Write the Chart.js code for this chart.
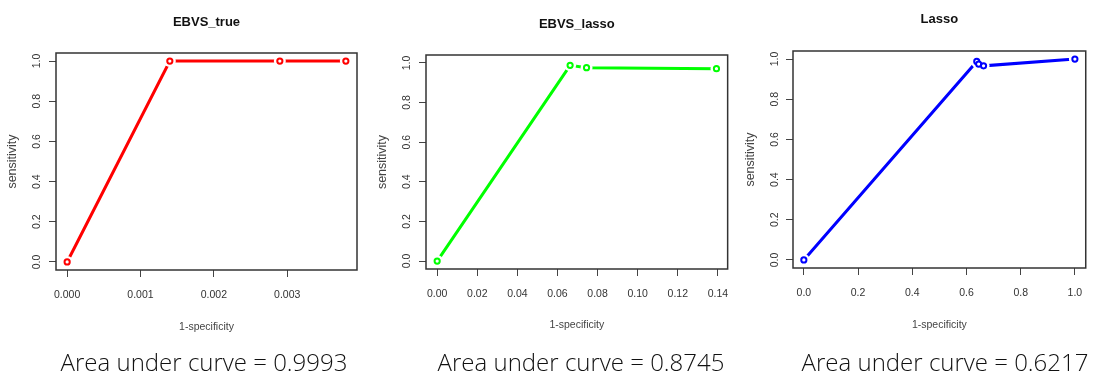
<!DOCTYPE html>
<html>
<head>
  <meta charset="utf-8">
  <title>ROC curves</title>
  <script src="https://cdn.jsdelivr.net/npm/chart.js"></script>
  <style>
    body { margin: 0; background: #fff; }
    #wrap { position: relative; width: 1094px; height: 374px; overflow: hidden; }
    .panel { position: absolute; top: 0; height: 374px; }
    .auc {
      position: absolute; top: 350px; transform: translateX(-50%);
      font-family: "Open Sans", sans-serif; font-weight: 300; font-size: 24px; line-height: 24px;
      color: #111; white-space: nowrap;
    }
  </style>
</head>
<body>
  <div id="wrap">
    <div class="panel" style="left:0;width:370px"><canvas id="trueChart"></canvas></div>
    <div class="panel" style="left:370px;width:370px"><canvas id="ebLassoChart"></canvas></div>
    <div class="panel" style="left:735px;width:359px"><canvas id="lassoChart"></canvas></div>
    <div class="auc" style="left:204px">Area under curve = 0.9993</div>
    <div class="auc" style="left:581px">Area under curve = 0.8745</div>
    <div class="auc" style="left:945px">Area under curve = 0.6217</div>
  </div>

  <script>
    // values
    const trueX = [0, 0.0014, 0.0029, 0.0038];
    const trueY = [0, 1, 1, 1];
    const ebLassoX = [0, 0.0663, 0.0745, 0.1393];
    const ebLassoY = [0, 0.988, 0.976, 0.971];
    const lassoX = [0, 0.638, 0.645, 0.663, 1.0];
    const lassoY = [0, 0.988, 0.975, 0.966, 1.0];

    const trueTicks = [0, 0.001, 0.002, 0.003];
    const ebLassoTicks = [0, 0.02, 0.04, 0.06, 0.08, 0.10, 0.12, 0.14];
    const lassoTicks = [0, 0.2, 0.4, 0.6, 0.8, 1.0];
    const sensTicks = [0, 0.2, 0.4, 0.6, 0.8, 1.0];

    Chart.defaults.font.family = '"Liberation Sans", Arial, sans-serif';
    Chart.defaults.animation = false;

    // R style box round the plot region
    const boxPlugin = {
      id: 'box',
      afterDatasetsDraw(chart) {
        const a = chart.chartArea, ctx = chart.ctx;
        ctx.save();
        ctx.strokeStyle = '#333';
        ctx.lineWidth = 1.5;
        ctx.strokeRect(a.left, a.top, a.right - a.left, a.bottom - a.top);
        ctx.restore();
      }
    };

    // 4% extension like R's default axis range
    function rRange(lo, hi) {
      const d = (hi - lo) * 0.04;
      return [lo - d, hi + d];
    }

    function makeChart(id, o) {
      const pts = o.xs.map((x, i) => ({ x: x, y: o.ys[i] }));
      const xr = rRange(Math.min(...o.xs), Math.max(...o.xs));
      const yr = rRange(0, 1);
      return new Chart(document.getElementById(id), {
        type: 'scatter',
        data: {
          datasets: [{
            // line, drawn first (bottom)
            order: 3,
            data: pts, showLine: true, borderColor: o.color, borderWidth: 3,
            borderCapStyle: 'butt', pointRadius: 0
          }, {
            // white gap round each point, like type = "b"
            order: 2,
            data: pts, showLine: false, pointRadius: 6, pointBorderWidth: 0,
            pointBackgroundColor: '#fff', pointBorderColor: '#fff'
          }, {
            order: 1,
            data: pts, showLine: false, pointRadius: 2.6, pointBorderWidth: 2,
            pointBorderColor: o.color, pointBackgroundColor: '#fff'
          }]
        },
        options: {
          responsive: true,
          maintainAspectRatio: false,
          events: [],
          layout: { padding: { left: 0, right: o.right, top: 0, bottom: 40 } },
          plugins: {
            legend: { display: false },
            tooltip: { enabled: false },
            title: {
              display: true, text: o.title, fullSize: false, color: '#111',
              font: { size: 13, weight: 'bold' },
              padding: { top: o.titleTop, bottom: o.top - o.titleTop - 15.6 }
            }
          },
          scales: {
            x: {
              type: 'linear', min: xr[0], max: xr[1],
              afterBuildTicks: s => { s.ticks = o.xTicks.map(v => ({ value: v })); },
              afterFit: s => { s.height = 334 - o.bottom; },
              grid: { drawOnChartArea: false, drawTicks: true, tickLength: 7, color: '#444' },
              border: { display: false },
              ticks: {
                autoSkip: false, maxRotation: 0, padding: 11.5, color: '#333',
                font: { size: 10.5 },
                callback: v => v.toFixed(o.digits)
              },
              title: {
                display: true, text: '1-specificity', color: '#444',
                font: { size: 10.5 }, padding: { top: 0, bottom: o.xTitlePad }
              }
            },
            y: {
              type: 'linear', min: yr[0], max: yr[1],
              afterBuildTicks: s => { s.ticks = sensTicks.map(v => ({ value: v })); },
              afterFit: s => { s.width = o.left; },
              grid: { drawOnChartArea: false, drawTicks: true, tickLength: 7, color: '#444' },
              border: { display: false },
              ticks: {
                minRotation: 90, maxRotation: 90, crossAlign: 'center',
                padding: o.yTickPad, color: '#333', font: { size: 10.5 },
                callback: v => v.toFixed(1)
              },
              title: {
                display: true, text: 'sensitivity', color: '#444',
                font: { size: 12.5 }, padding: { top: o.yTitlePad, bottom: 0 }
              }
            }
          }
        },
        plugins: [boxPlugin]
      });
    }

    makeChart('trueChart', {
      title: 'EBVS_true', xs: trueX, ys: trueY, color: '#ff0000',
      xTicks: trueTicks, digits: 3,
      left: 56, right: 13, top: 53, bottom: 270, titleTop: 14.5,
      yTickPad: 5, yTitlePad: 5, xTitlePad: 1
    });
    makeChart('ebLassoChart', {
      title: 'EBVS_lasso', xs: ebLassoX, ys: ebLassoY, color: '#00ff00',
      xTicks: ebLassoTicks, digits: 2,
      left: 56, right: 10, top: 55, bottom: 269, titleTop: 16.5,
      yTickPad: 5, yTitlePad: 5, xTitlePad: 3
    });
    makeChart('lassoChart', {
      title: 'Lasso', xs: lassoX, ys: lassoY, color: '#0000ff',
      xTicks: lassoTicks, digits: 1,
      left: 58, right: 1, top: 51, bottom: 268, titleTop: 11.5,
      yTickPad: 4, yTitlePad: 8, xTitlePad: 3
    });
  </script>
</body>
</html>
